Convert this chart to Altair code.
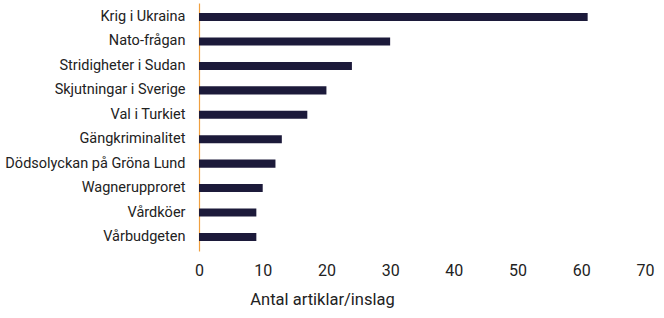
import altair as alt
import pandas as pd

categories = ["Krig i Ukraina", "Nato-frågan", "Stridigheter i Sudan", "Skjutningar i Sverige",
              "Val i Turkiet", "Gängkriminalitet", "Dödsolyckan på Gröna Lund", "Wagnerupproret",
              "Vårdköer", "Vårbudgeten"]
values = [61, 30, 24, 20, 17, 13, 12, 10, 9, 9]
x_ticks = [0, 10, 20, 30, 40, 50, 60, 70]

df = pd.DataFrame({"kategori": categories, "antal": values})

chart = alt.Chart(df).mark_bar(color="#1c1a3a").encode(
    x=alt.X("antal:Q", scale=alt.Scale(domain=[0, 70], nice=False),
            axis=alt.Axis(values=x_ticks, title="Antal artiklar/inslag", grid=False, domain=False,
                          ticks=False, labelFontSize=16, labelPadding=11, labelColor="#222",
                          labelFlush=False,
                          titleFontSize=16.5, titleFontWeight="normal", titleColor="#222",
                          titlePadding=13, titleX=123, titleAlign="center", titleAnchor="start",
                          labelFont="Roboto", titleFont="Roboto")),
    y=alt.Y("kategori:N", sort=categories,
            scale=alt.Scale(paddingInner=0.67, paddingOuter=0.41),
            axis=alt.Axis(title=None, ticks=False, domain=True, domainColor="#f0a040",
                          domainWidth=1.2, labelFontSize=14.5, labelPadding=14, labelColor="#222",
                          labelFont="Roboto", labelLimit=400)),
).properties(
    width=446, height=248,
    autosize=alt.AutoSizeParams(type="none"),
    padding={"left": 199, "top": 3, "right": 19, "bottom": 67},
).configure_view(stroke=None)

chart.save("out.html", embed_options={"renderer": "svg", "actions": False})
